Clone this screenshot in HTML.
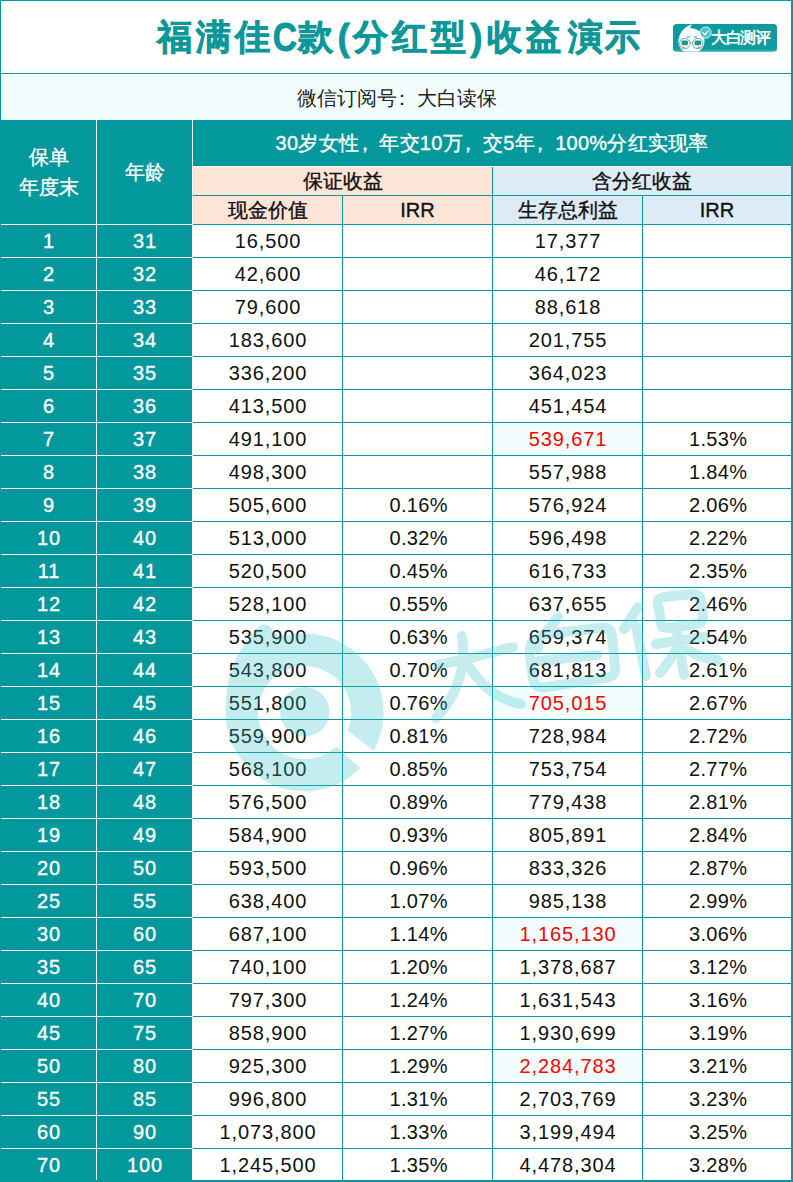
<!DOCTYPE html><html><head><meta charset="utf-8"><title>福满佳C款收益演示</title><style>
*{margin:0;padding:0;box-sizing:border-box}
html,body{width:793px;height:1182px;overflow:hidden;background:#fff}
body{position:relative;font-family:"Liberation Sans",sans-serif;color:#111}
.a{position:absolute}
.t{position:absolute;display:flex;align-items:center;justify-content:center;white-space:nowrap;font-size:20px;line-height:1}
.n{letter-spacing:0.9px;padding-left:0.9px}
.p{letter-spacing:0.35px;padding-left:2.3px}
.w{color:#fff}
.fc{position:relative;left:-4.5px}
.b{-webkit-text-stroke:0.35px currentColor}
.tt{position:absolute;display:flex;align-items:center;justify-content:center;font-weight:bold;color:#0e9799;-webkit-text-stroke:0.8px #0e9799;line-height:1}
.r{color:#ff0000}
.hl{position:absolute;height:1px;background:#05979a}
.vl{position:absolute;width:1px;background:#05979a}
.wh{position:absolute;height:1px;background:#fff}

</style></head><body>
<div class="a" style="left:2px;top:75px;width:789px;height:45px;background:#f2fefe"></div>
<div class="a" style="left:0;top:120px;width:791px;height:46px;background:#03989b"></div>
<div class="a" style="left:0;top:120px;width:96px;height:1062px;background:#03989b"></div>
<div class="a" style="left:97px;top:120px;width:95px;height:1062px;background:#03989b"></div>
<div class="a" style="left:193px;top:167px;width:299px;height:57px;background:#fce4d6"></div>
<div class="a" style="left:493px;top:167px;width:298px;height:57px;background:#ddebf7"></div>
<div class="a" style="left:493px;top:423px;width:149px;height:32px;background:#f2fefe"></div>
<div class="a" style="left:493px;top:687px;width:149px;height:32px;background:#f2fefe"></div>
<div class="a" style="left:493px;top:918px;width:149px;height:32px;background:#f2fefe"></div>
<div class="a" style="left:493px;top:1050px;width:149px;height:32px;background:#f2fefe"></div>
<div class="a" style="left:96px;top:120px;width:1px;height:1062px;background:#fff"></div>
<div class="a" style="left:192px;top:120px;width:1px;height:1062px;background:#fff"></div>
<div class="wh" style="left:193px;top:166px;width:598px;background:#fff"></div>
<div class="wh" style="left:1px;top:224px;width:191px"></div>
<div class="wh" style="left:1px;top:257px;width:191px"></div>
<div class="wh" style="left:1px;top:290px;width:191px"></div>
<div class="wh" style="left:1px;top:323px;width:191px"></div>
<div class="wh" style="left:1px;top:356px;width:191px"></div>
<div class="wh" style="left:1px;top:389px;width:191px"></div>
<div class="wh" style="left:1px;top:422px;width:191px"></div>
<div class="wh" style="left:1px;top:455px;width:191px"></div>
<div class="wh" style="left:1px;top:488px;width:191px"></div>
<div class="wh" style="left:1px;top:521px;width:191px"></div>
<div class="wh" style="left:1px;top:554px;width:191px"></div>
<div class="wh" style="left:1px;top:587px;width:191px"></div>
<div class="wh" style="left:1px;top:620px;width:191px"></div>
<div class="wh" style="left:1px;top:653px;width:191px"></div>
<div class="wh" style="left:1px;top:686px;width:191px"></div>
<div class="wh" style="left:1px;top:719px;width:191px"></div>
<div class="wh" style="left:1px;top:752px;width:191px"></div>
<div class="wh" style="left:1px;top:785px;width:191px"></div>
<div class="wh" style="left:1px;top:818px;width:191px"></div>
<div class="wh" style="left:1px;top:851px;width:191px"></div>
<div class="wh" style="left:1px;top:884px;width:191px"></div>
<div class="wh" style="left:1px;top:917px;width:191px"></div>
<div class="wh" style="left:1px;top:950px;width:191px"></div>
<div class="wh" style="left:1px;top:983px;width:191px"></div>
<div class="wh" style="left:1px;top:1016px;width:191px"></div>
<div class="wh" style="left:1px;top:1049px;width:191px"></div>
<div class="wh" style="left:1px;top:1082px;width:191px"></div>
<div class="wh" style="left:1px;top:1115px;width:191px"></div>
<div class="wh" style="left:1px;top:1148px;width:191px"></div>
<div class="hl" style="left:193px;top:195px;width:598px"></div>
<div class="hl" style="left:193px;top:224px;width:598px"></div>
<div class="hl" style="left:193px;top:257px;width:598px"></div>
<div class="hl" style="left:193px;top:290px;width:598px"></div>
<div class="hl" style="left:193px;top:323px;width:598px"></div>
<div class="hl" style="left:193px;top:356px;width:598px"></div>
<div class="hl" style="left:193px;top:389px;width:598px"></div>
<div class="hl" style="left:193px;top:422px;width:598px"></div>
<div class="hl" style="left:193px;top:455px;width:598px"></div>
<div class="hl" style="left:193px;top:488px;width:598px"></div>
<div class="hl" style="left:193px;top:521px;width:598px"></div>
<div class="hl" style="left:193px;top:554px;width:598px"></div>
<div class="hl" style="left:193px;top:587px;width:598px"></div>
<div class="hl" style="left:193px;top:620px;width:598px"></div>
<div class="hl" style="left:193px;top:653px;width:598px"></div>
<div class="hl" style="left:193px;top:686px;width:598px"></div>
<div class="hl" style="left:193px;top:719px;width:598px"></div>
<div class="hl" style="left:193px;top:752px;width:598px"></div>
<div class="hl" style="left:193px;top:785px;width:598px"></div>
<div class="hl" style="left:193px;top:818px;width:598px"></div>
<div class="hl" style="left:193px;top:851px;width:598px"></div>
<div class="hl" style="left:193px;top:884px;width:598px"></div>
<div class="hl" style="left:193px;top:917px;width:598px"></div>
<div class="hl" style="left:193px;top:950px;width:598px"></div>
<div class="hl" style="left:193px;top:983px;width:598px"></div>
<div class="hl" style="left:193px;top:1016px;width:598px"></div>
<div class="hl" style="left:193px;top:1049px;width:598px"></div>
<div class="hl" style="left:193px;top:1082px;width:598px"></div>
<div class="hl" style="left:193px;top:1115px;width:598px"></div>
<div class="hl" style="left:193px;top:1148px;width:598px"></div>
<div class="vl" style="left:342px;top:196px;height:985px"></div>
<div class="vl" style="left:492px;top:167px;height:1014px"></div>
<div class="vl" style="left:642px;top:196px;height:985px"></div>
<div class="a" style="left:0;top:0;width:793px;height:1px;background:#05979a"></div>
<div class="a" style="left:0;top:73px;width:793px;height:1px;background:#05979a"></div>
<div class="a" style="left:0;top:0;width:1px;height:120px;background:#05979a"></div>
<div class="a" style="left:791px;top:0;width:2px;height:1182px;background:#05979a"></div>
<div class="a" style="left:0;top:1180px;width:793px;height:2px;background:#05979a"></div>
<div class="tt" style="left:149.0px;top:14px;width:50px;height:46px;font-size:34.5px">福</div>
<div class="tt" style="left:188.5px;top:14px;width:50px;height:46px;font-size:34.5px">满</div>
<div class="tt" style="left:227.0px;top:14px;width:50px;height:46px;font-size:34.5px">佳</div>
<div class="tt" style="left:259.8px;top:14px;width:50px;height:46px;font-size:40.5px;transform:translateY(0px) scaleX(0.83)">C</div>
<div class="tt" style="left:290.5px;top:14px;width:50px;height:46px;font-size:34.5px">款</div>
<div class="tt" style="left:318.7px;top:14px;width:50px;height:46px;font-size:37px">(</div>
<div class="tt" style="left:345.2px;top:14px;width:50px;height:46px;font-size:34.5px">分</div>
<div class="tt" style="left:384.0px;top:14px;width:50px;height:46px;font-size:34.5px">红</div>
<div class="tt" style="left:423.5px;top:14px;width:50px;height:46px;font-size:34.5px">型</div>
<div class="tt" style="left:451.5px;top:14px;width:50px;height:46px;font-size:37px">)</div>
<div class="tt" style="left:479.5px;top:14px;width:50px;height:46px;font-size:34.5px">收</div>
<div class="tt" style="left:518.0px;top:14px;width:50px;height:46px;font-size:34.5px">益</div>
<div class="tt" style="left:560.0px;top:14px;width:50px;height:46px;font-size:34.5px">演</div>
<div class="tt" style="left:597.0px;top:14px;width:50px;height:46px;font-size:34.5px">示</div>
<svg class="a" style="left:673px;top:24px" width="104" height="28" viewBox="0 0 104 28">
<defs><clipPath id="bc"><rect x="0" y="0" width="104" height="27.6" rx="3.5"/></clipPath></defs>
<rect x="0" y="0" width="104" height="27.6" rx="3.5" fill="#0e9b9e"/>
<rect x="0" y="25.6" width="104" height="2" fill="#1fb0b2" clip-path="url(#bc)"/>
<g clip-path="url(#bc)">
<path d="M5.4 18 C5.6 10 10 3 19.3 0.2 C18 1.5 17.2 3 17.4 4.3 C24 4.2 31.5 9 31.5 17 C31.5 24 26 29.5 18.5 29.5 C11 29.5 5.4 24 5.4 18 Z" fill="#fff"/>
<rect x="13.6" y="12.4" width="3" height="1.1" fill="#2aa3a5"/>
<rect x="21" y="12.4" width="3" height="1.1" fill="#2aa3a5"/>
<circle cx="11.8" cy="19.6" r="5.2" fill="none" stroke="#2a9fa2" stroke-width="0.8"/>
<circle cx="24.8" cy="19.6" r="5.2" fill="none" stroke="#2a9fa2" stroke-width="0.8"/>
<path d="M17 19 L19.6 19" stroke="#2a9fa2" stroke-width="0.8"/>
<rect x="8.6" y="16.6" width="6.4" height="4.6" rx="1.2" fill="#17979a"/>
<rect x="21.6" y="16.6" width="6.4" height="4.6" rx="1.2" fill="#17979a"/>
<ellipse cx="10.2" cy="23.5" rx="1.8" ry="0.9" fill="#f28a8a"/>
<ellipse cx="26.2" cy="23.5" rx="1.8" ry="0.9" fill="#f28a8a"/>
</g>
<circle cx="32.6" cy="8.6" r="5.6" fill="#44c5c9" stroke="#ffffff" stroke-width="0.9"/>
<path d="M29.9 8.8 L31.9 10.9 L35.4 6.6" fill="none" stroke="#fff" stroke-width="1.3" stroke-linecap="round" stroke-linejoin="round"/>
</svg>
<div class="a" style="left:711px;top:28.5px;width:62px;height:18px;font-size:16px;line-height:18px;color:#fff;font-weight:bold;white-space:nowrap;letter-spacing:-1.3px">大白测评</div>

<div class="t" style="left:0;top:75px;width:793px;height:45px;color:#222">微信订阅号<span class="fc">：</span>大白读保</div>
<div class="t w b" style="left:193px;top:120px;width:598px;height:46px;letter-spacing:0.25px;padding-left:0.25px">30岁女性<span class="fc">，</span>年交10万<span class="fc">，</span>交5年<span class="fc">，</span>100%分红实现率</div>
<div class="t w b" style="left:1px;top:120px;width:95px;height:104px;flex-direction:column;line-height:30px;text-align:center">保单<br>年度末</div>
<div class="t w b" style="left:97px;top:120px;width:95px;height:104px">年龄</div>
<div class="t b" style="left:193px;top:167px;width:299px;height:28px">保证收益</div>
<div class="t b" style="left:493px;top:167px;width:298px;height:28px">含分红收益</div>
<div class="t b" style="left:193px;top:196px;width:149px;height:28px">现金价值</div>
<div class="t b" style="left:343px;top:196px;width:149px;height:28px">IRR</div>
<div class="t b" style="left:493px;top:196px;width:149px;height:28px">生存总利益</div>
<div class="t b" style="left:643px;top:196px;width:148px;height:28px">IRR</div>
<div class="t n w b" style="left:1px;top:225px;width:95px;height:32px">1</div>
<div class="t n w b" style="left:97px;top:225px;width:95px;height:32px">31</div>
<div class="t n" style="left:193px;top:225px;width:149px;height:32px">16,500</div>
<div class="t n" style="left:493px;top:225px;width:149px;height:32px">17,377</div>
<div class="t n w b" style="left:1px;top:258px;width:95px;height:32px">2</div>
<div class="t n w b" style="left:97px;top:258px;width:95px;height:32px">32</div>
<div class="t n" style="left:193px;top:258px;width:149px;height:32px">42,600</div>
<div class="t n" style="left:493px;top:258px;width:149px;height:32px">46,172</div>
<div class="t n w b" style="left:1px;top:291px;width:95px;height:32px">3</div>
<div class="t n w b" style="left:97px;top:291px;width:95px;height:32px">33</div>
<div class="t n" style="left:193px;top:291px;width:149px;height:32px">79,600</div>
<div class="t n" style="left:493px;top:291px;width:149px;height:32px">88,618</div>
<div class="t n w b" style="left:1px;top:324px;width:95px;height:32px">4</div>
<div class="t n w b" style="left:97px;top:324px;width:95px;height:32px">34</div>
<div class="t n" style="left:193px;top:324px;width:149px;height:32px">183,600</div>
<div class="t n" style="left:493px;top:324px;width:149px;height:32px">201,755</div>
<div class="t n w b" style="left:1px;top:357px;width:95px;height:32px">5</div>
<div class="t n w b" style="left:97px;top:357px;width:95px;height:32px">35</div>
<div class="t n" style="left:193px;top:357px;width:149px;height:32px">336,200</div>
<div class="t n" style="left:493px;top:357px;width:149px;height:32px">364,023</div>
<div class="t n w b" style="left:1px;top:390px;width:95px;height:32px">6</div>
<div class="t n w b" style="left:97px;top:390px;width:95px;height:32px">36</div>
<div class="t n" style="left:193px;top:390px;width:149px;height:32px">413,500</div>
<div class="t n" style="left:493px;top:390px;width:149px;height:32px">451,454</div>
<div class="t n w b" style="left:1px;top:423px;width:95px;height:32px">7</div>
<div class="t n w b" style="left:97px;top:423px;width:95px;height:32px">37</div>
<div class="t n" style="left:193px;top:423px;width:149px;height:32px">491,100</div>
<div class="t n r" style="left:493px;top:423px;width:149px;height:32px">539,671</div>
<div class="t p" style="left:643px;top:423px;width:148px;height:32px">1.53%</div>
<div class="t n w b" style="left:1px;top:456px;width:95px;height:32px">8</div>
<div class="t n w b" style="left:97px;top:456px;width:95px;height:32px">38</div>
<div class="t n" style="left:193px;top:456px;width:149px;height:32px">498,300</div>
<div class="t n" style="left:493px;top:456px;width:149px;height:32px">557,988</div>
<div class="t p" style="left:643px;top:456px;width:148px;height:32px">1.84%</div>
<div class="t n w b" style="left:1px;top:489px;width:95px;height:32px">9</div>
<div class="t n w b" style="left:97px;top:489px;width:95px;height:32px">39</div>
<div class="t n" style="left:193px;top:489px;width:149px;height:32px">505,600</div>
<div class="t p" style="left:343px;top:489px;width:149px;height:32px">0.16%</div>
<div class="t n" style="left:493px;top:489px;width:149px;height:32px">576,924</div>
<div class="t p" style="left:643px;top:489px;width:148px;height:32px">2.06%</div>
<div class="t n w b" style="left:1px;top:522px;width:95px;height:32px">10</div>
<div class="t n w b" style="left:97px;top:522px;width:95px;height:32px">40</div>
<div class="t n" style="left:193px;top:522px;width:149px;height:32px">513,000</div>
<div class="t p" style="left:343px;top:522px;width:149px;height:32px">0.32%</div>
<div class="t n" style="left:493px;top:522px;width:149px;height:32px">596,498</div>
<div class="t p" style="left:643px;top:522px;width:148px;height:32px">2.22%</div>
<div class="t n w b" style="left:1px;top:555px;width:95px;height:32px">11</div>
<div class="t n w b" style="left:97px;top:555px;width:95px;height:32px">41</div>
<div class="t n" style="left:193px;top:555px;width:149px;height:32px">520,500</div>
<div class="t p" style="left:343px;top:555px;width:149px;height:32px">0.45%</div>
<div class="t n" style="left:493px;top:555px;width:149px;height:32px">616,733</div>
<div class="t p" style="left:643px;top:555px;width:148px;height:32px">2.35%</div>
<div class="t n w b" style="left:1px;top:588px;width:95px;height:32px">12</div>
<div class="t n w b" style="left:97px;top:588px;width:95px;height:32px">42</div>
<div class="t n" style="left:193px;top:588px;width:149px;height:32px">528,100</div>
<div class="t p" style="left:343px;top:588px;width:149px;height:32px">0.55%</div>
<div class="t n" style="left:493px;top:588px;width:149px;height:32px">637,655</div>
<div class="t p" style="left:643px;top:588px;width:148px;height:32px">2.46%</div>
<div class="t n w b" style="left:1px;top:621px;width:95px;height:32px">13</div>
<div class="t n w b" style="left:97px;top:621px;width:95px;height:32px">43</div>
<div class="t n" style="left:193px;top:621px;width:149px;height:32px">535,900</div>
<div class="t p" style="left:343px;top:621px;width:149px;height:32px">0.63%</div>
<div class="t n" style="left:493px;top:621px;width:149px;height:32px">659,374</div>
<div class="t p" style="left:643px;top:621px;width:148px;height:32px">2.54%</div>
<div class="t n w b" style="left:1px;top:654px;width:95px;height:32px">14</div>
<div class="t n w b" style="left:97px;top:654px;width:95px;height:32px">44</div>
<div class="t n" style="left:193px;top:654px;width:149px;height:32px">543,800</div>
<div class="t p" style="left:343px;top:654px;width:149px;height:32px">0.70%</div>
<div class="t n" style="left:493px;top:654px;width:149px;height:32px">681,813</div>
<div class="t p" style="left:643px;top:654px;width:148px;height:32px">2.61%</div>
<div class="t n w b" style="left:1px;top:687px;width:95px;height:32px">15</div>
<div class="t n w b" style="left:97px;top:687px;width:95px;height:32px">45</div>
<div class="t n" style="left:193px;top:687px;width:149px;height:32px">551,800</div>
<div class="t p" style="left:343px;top:687px;width:149px;height:32px">0.76%</div>
<div class="t n r" style="left:493px;top:687px;width:149px;height:32px">705,015</div>
<div class="t p" style="left:643px;top:687px;width:148px;height:32px">2.67%</div>
<div class="t n w b" style="left:1px;top:720px;width:95px;height:32px">16</div>
<div class="t n w b" style="left:97px;top:720px;width:95px;height:32px">46</div>
<div class="t n" style="left:193px;top:720px;width:149px;height:32px">559,900</div>
<div class="t p" style="left:343px;top:720px;width:149px;height:32px">0.81%</div>
<div class="t n" style="left:493px;top:720px;width:149px;height:32px">728,984</div>
<div class="t p" style="left:643px;top:720px;width:148px;height:32px">2.72%</div>
<div class="t n w b" style="left:1px;top:753px;width:95px;height:32px">17</div>
<div class="t n w b" style="left:97px;top:753px;width:95px;height:32px">47</div>
<div class="t n" style="left:193px;top:753px;width:149px;height:32px">568,100</div>
<div class="t p" style="left:343px;top:753px;width:149px;height:32px">0.85%</div>
<div class="t n" style="left:493px;top:753px;width:149px;height:32px">753,754</div>
<div class="t p" style="left:643px;top:753px;width:148px;height:32px">2.77%</div>
<div class="t n w b" style="left:1px;top:786px;width:95px;height:32px">18</div>
<div class="t n w b" style="left:97px;top:786px;width:95px;height:32px">48</div>
<div class="t n" style="left:193px;top:786px;width:149px;height:32px">576,500</div>
<div class="t p" style="left:343px;top:786px;width:149px;height:32px">0.89%</div>
<div class="t n" style="left:493px;top:786px;width:149px;height:32px">779,438</div>
<div class="t p" style="left:643px;top:786px;width:148px;height:32px">2.81%</div>
<div class="t n w b" style="left:1px;top:819px;width:95px;height:32px">19</div>
<div class="t n w b" style="left:97px;top:819px;width:95px;height:32px">49</div>
<div class="t n" style="left:193px;top:819px;width:149px;height:32px">584,900</div>
<div class="t p" style="left:343px;top:819px;width:149px;height:32px">0.93%</div>
<div class="t n" style="left:493px;top:819px;width:149px;height:32px">805,891</div>
<div class="t p" style="left:643px;top:819px;width:148px;height:32px">2.84%</div>
<div class="t n w b" style="left:1px;top:852px;width:95px;height:32px">20</div>
<div class="t n w b" style="left:97px;top:852px;width:95px;height:32px">50</div>
<div class="t n" style="left:193px;top:852px;width:149px;height:32px">593,500</div>
<div class="t p" style="left:343px;top:852px;width:149px;height:32px">0.96%</div>
<div class="t n" style="left:493px;top:852px;width:149px;height:32px">833,326</div>
<div class="t p" style="left:643px;top:852px;width:148px;height:32px">2.87%</div>
<div class="t n w b" style="left:1px;top:885px;width:95px;height:32px">25</div>
<div class="t n w b" style="left:97px;top:885px;width:95px;height:32px">55</div>
<div class="t n" style="left:193px;top:885px;width:149px;height:32px">638,400</div>
<div class="t p" style="left:343px;top:885px;width:149px;height:32px">1.07%</div>
<div class="t n" style="left:493px;top:885px;width:149px;height:32px">985,138</div>
<div class="t p" style="left:643px;top:885px;width:148px;height:32px">2.99%</div>
<div class="t n w b" style="left:1px;top:918px;width:95px;height:32px">30</div>
<div class="t n w b" style="left:97px;top:918px;width:95px;height:32px">60</div>
<div class="t n" style="left:193px;top:918px;width:149px;height:32px">687,100</div>
<div class="t p" style="left:343px;top:918px;width:149px;height:32px">1.14%</div>
<div class="t n r" style="left:493px;top:918px;width:149px;height:32px">1,165,130</div>
<div class="t p" style="left:643px;top:918px;width:148px;height:32px">3.06%</div>
<div class="t n w b" style="left:1px;top:951px;width:95px;height:32px">35</div>
<div class="t n w b" style="left:97px;top:951px;width:95px;height:32px">65</div>
<div class="t n" style="left:193px;top:951px;width:149px;height:32px">740,100</div>
<div class="t p" style="left:343px;top:951px;width:149px;height:32px">1.20%</div>
<div class="t n" style="left:493px;top:951px;width:149px;height:32px">1,378,687</div>
<div class="t p" style="left:643px;top:951px;width:148px;height:32px">3.12%</div>
<div class="t n w b" style="left:1px;top:984px;width:95px;height:32px">40</div>
<div class="t n w b" style="left:97px;top:984px;width:95px;height:32px">70</div>
<div class="t n" style="left:193px;top:984px;width:149px;height:32px">797,300</div>
<div class="t p" style="left:343px;top:984px;width:149px;height:32px">1.24%</div>
<div class="t n" style="left:493px;top:984px;width:149px;height:32px">1,631,543</div>
<div class="t p" style="left:643px;top:984px;width:148px;height:32px">3.16%</div>
<div class="t n w b" style="left:1px;top:1017px;width:95px;height:32px">45</div>
<div class="t n w b" style="left:97px;top:1017px;width:95px;height:32px">75</div>
<div class="t n" style="left:193px;top:1017px;width:149px;height:32px">858,900</div>
<div class="t p" style="left:343px;top:1017px;width:149px;height:32px">1.27%</div>
<div class="t n" style="left:493px;top:1017px;width:149px;height:32px">1,930,699</div>
<div class="t p" style="left:643px;top:1017px;width:148px;height:32px">3.19%</div>
<div class="t n w b" style="left:1px;top:1050px;width:95px;height:32px">50</div>
<div class="t n w b" style="left:97px;top:1050px;width:95px;height:32px">80</div>
<div class="t n" style="left:193px;top:1050px;width:149px;height:32px">925,300</div>
<div class="t p" style="left:343px;top:1050px;width:149px;height:32px">1.29%</div>
<div class="t n r" style="left:493px;top:1050px;width:149px;height:32px">2,284,783</div>
<div class="t p" style="left:643px;top:1050px;width:148px;height:32px">3.21%</div>
<div class="t n w b" style="left:1px;top:1083px;width:95px;height:32px">55</div>
<div class="t n w b" style="left:97px;top:1083px;width:95px;height:32px">85</div>
<div class="t n" style="left:193px;top:1083px;width:149px;height:32px">996,800</div>
<div class="t p" style="left:343px;top:1083px;width:149px;height:32px">1.31%</div>
<div class="t n" style="left:493px;top:1083px;width:149px;height:32px">2,703,769</div>
<div class="t p" style="left:643px;top:1083px;width:148px;height:32px">3.23%</div>
<div class="t n w b" style="left:1px;top:1116px;width:95px;height:32px">60</div>
<div class="t n w b" style="left:97px;top:1116px;width:95px;height:32px">90</div>
<div class="t n" style="left:193px;top:1116px;width:149px;height:32px">1,073,800</div>
<div class="t p" style="left:343px;top:1116px;width:149px;height:32px">1.33%</div>
<div class="t n" style="left:493px;top:1116px;width:149px;height:32px">3,199,494</div>
<div class="t p" style="left:643px;top:1116px;width:148px;height:32px">3.25%</div>
<div class="t n w b" style="left:1px;top:1149px;width:95px;height:32px">70</div>
<div class="t n w b" style="left:97px;top:1149px;width:95px;height:32px">100</div>
<div class="t n" style="left:193px;top:1149px;width:149px;height:32px">1,245,500</div>
<div class="t p" style="left:343px;top:1149px;width:149px;height:32px">1.35%</div>
<div class="t n" style="left:493px;top:1149px;width:149px;height:32px">4,478,304</div>
<div class="t p" style="left:643px;top:1149px;width:148px;height:32px">3.28%</div>
<svg class="a" style="left:0;top:0;opacity:0.27" width="793" height="1182" viewBox="0 0 793 1182">
<path d="M360.3 768.2 L344.1 780.9 A79 79 0 1 1 373.7 750.8 L347.5 730.4 A46.5 46.5 0 1 0 336.3 746.5 Z" fill="#2cc0c7"/>
<path d="M225.8 706 C226 684 232 660 246 642 C251 635 255 629 259 626.5 C263 623.5 268 624 271 627.5 L278.5 636 L300 633.6 L290 660 L240 700 Z" fill="#2cc0c7"/>
<circle cx="304.7" cy="711.8" r="24.7" fill="#2cc0c7"/>
<g fill="none" stroke="#2cc0c7" stroke-width="10" stroke-linecap="round" stroke-linejoin="round">
<path d="M438 665 L475 657 L513 647"/>
<path d="M462 636 C466 662 462 690 436 718"/>
<path d="M470 668 C485 690 500 700 521 704"/>
<path d="M558 617 L546 632"/>
<path d="M538 638 C531 640 529 646 530 656 L533 679 C534 686 539 688 546 687 L606 678 C613 677 616 673 615 666 L612 636 C611 629 607 627 600 628 L545 634 C539 635 537 640 538 648"/>
<path d="M539 661 L597 655"/>
<path d="M638 607 L624 629"/>
<path d="M636 626 L646 676"/>
<path d="M662 627 L658 604 C657 600 660 598 664 597 L692 594 C697 594 700 596 701 600 L703 617 C703 621 701 623 697 624 L667 628"/>
<path d="M656 644 L704 637"/>
<path d="M677 631 L684 675"/>
<path d="M676 650 C670 660 665 667 660 673"/>
<path d="M688 650 C697 656 707 659 718 660"/>
</g>
</svg>
</body></html>
